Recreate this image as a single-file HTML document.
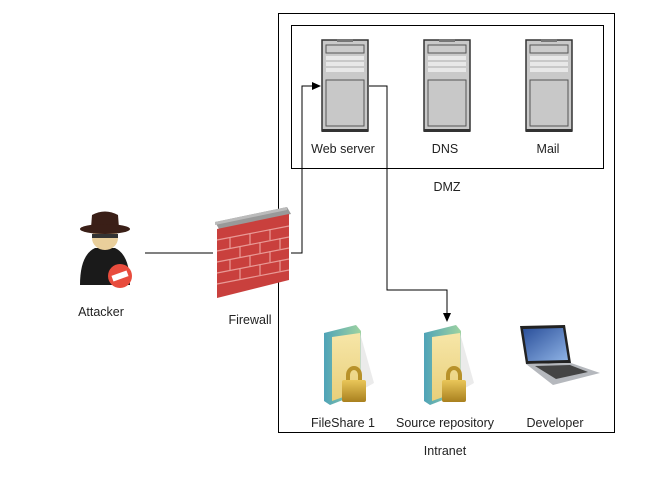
<!DOCTYPE html>
<html><head><style>
body{margin:0;background:#fff;width:652px;height:477px;overflow:hidden}
svg text{font-family:"Liberation Sans",sans-serif;font-size:12.5px;fill:#222}
</style></head><body>
<svg width="652" height="477" viewBox="0 0 652 477">
<defs>
<marker id="a" markerWidth="10" markerHeight="10" refX="8" refY="5" orient="auto" markerUnits="userSpaceOnUse"><path d="M0,1 L9,5 L0,9 Z" fill="#000"/></marker>
<linearGradient id="fb" x1="0" x2="1"><stop offset="0" stop-color="#4fa3b8"/><stop offset="1" stop-color="#9ed3a0"/></linearGradient>
<linearGradient id="fy" x1="0" x2="0" y2="1"><stop offset="0" stop-color="#f7e6a8"/><stop offset="1" stop-color="#e8cf7a"/></linearGradient>
<linearGradient id="lk" x1="0" x2="0" y2="1"><stop offset="0" stop-color="#e9c659"/><stop offset="1" stop-color="#a9801e"/></linearGradient>
<linearGradient id="sc" x1="0" x2="1" y2="1"><stop offset="0" stop-color="#2a4f9a"/><stop offset="1" stop-color="#8fb3e5"/></linearGradient>
<g id="srv">
<rect x="0" y="0" width="46" height="91" fill="#c9c9c9" stroke="#333" stroke-width="1.5"/>
<rect x="0" y="89" width="46" height="3" fill="#333"/>
<rect x="15" y="-1" width="16" height="3" fill="#777"/>
<rect x="4" y="5" width="38" height="8" fill="#ccc" stroke="#555"/>
<rect x="4" y="16" width="38" height="4" fill="#e8e8e8"/>
<rect x="4" y="22" width="38" height="4" fill="#e8e8e8"/>
<rect x="4" y="28" width="38" height="4" fill="#e8e8e8"/>
<rect x="4" y="40" width="38" height="46" fill="#c8c8c8" stroke="#555"/>
</g>
<g id="fold">
<path d="M8,10 L40,2 L45,8 L45,70 L14,82 L8,78 Z" fill="url(#fb)"/>
<path d="M16,14 L44,10 L44,68 L16,78 Z" fill="url(#fy)"/>
<path d="M44,10 L58,60 L44,68 Z" fill="#ddd" opacity=".6"/>
<path d="M30,52 a8,9 0 0 1 16,0 v6 h-4 v-6 a4,5 0 0 0 -8,0 v6 h-4z" fill="#b8922a"/>
<rect x="26" y="57" width="24" height="22" rx="2" fill="url(#lk)"/>
</g>
</defs>
<rect x="278.5" y="13.5" width="336" height="419" fill="none" stroke="#000"/>
<rect x="291.5" y="25.5" width="312" height="143" fill="none" stroke="#000"/>
<use href="#srv" x="322" y="40"/>
<use href="#srv" x="424" y="40"/>
<use href="#srv" x="526" y="40"/>
<text x="343" y="153" text-anchor="middle">Web server</text>
<text x="445" y="153" text-anchor="middle">DNS</text>
<text x="548" y="153" text-anchor="middle">Mail</text>
<text x="447" y="191" text-anchor="middle">DMZ</text>
<path d="M145,253 H213" stroke="#000" fill="none"/>
<path d="M291,253 H302 V86 H320" stroke="#000" fill="none" marker-end="url(#a)"/>
<path d="M369,86 H387 V290 H447 V321" stroke="#000" fill="none" marker-end="url(#a)"/>
<!-- firewall -->
<g>
<path d="M215,222 L287,207 L291,214 L219,229 Z" fill="#999"/>
<path d="M215,222 L287,207 L287,210 L215,225Z" fill="#bbb"/>
<path d="M217,229 L289,214 L289,280 L217,298 Z" fill="#c9403d"/>
<g stroke="#e99a96" stroke-width="1.2">
<path d="M217,240 L289,226 M217,251 L289,237 M217,262 L289,248 M217,273 L289,259 M217,284 L289,270"/>
<path d="M230,237 v11 M250,233 v11 M270,229 v11 M240,246 v11 M260,242 v11 M280,238 v11 M230,259 v11 M250,255 v11 M270,251 v11 M240,268 v11 M260,264 v11 M280,260 v11"/>
</g>
</g>
<text x="250" y="324" text-anchor="middle">Firewall</text>
<!-- attacker -->
<g>
<path d="M80,285 Q80,255 95,248 L115,248 Q130,255 130,285 Z" fill="#1a1a1a"/>
<ellipse cx="105" cy="238" rx="13" ry="12" fill="#e9cf9b"/>
<rect x="92" y="234" width="26" height="4" fill="#333"/>
<path d="M92,215 Q105,208 118,215 L119,228 L91,228Z" fill="#3a1f17"/>
<ellipse cx="105" cy="229" rx="25" ry="5" fill="#3a1f17"/>
<circle cx="120" cy="276" r="12" fill="#e84c3d"/>
<rect x="112" y="273" width="16" height="6" fill="#fff" transform="rotate(-20 120 276)"/>
</g>
<text x="101" y="316" text-anchor="middle">Attacker</text>
<use href="#fold" x="316" y="323"/>
<use href="#fold" x="416" y="323"/>
<!-- laptop -->
<g>
<path d="M520,326 L565,325 L571,363 L526,364Z" fill="#222"/>
<path d="M523,329 L563,328 L568,360 L528,361Z" fill="url(#sc)"/>
<path d="M526,364 L571,363 L600,373 L553,385 Z" fill="#b5b8bd"/>
<path d="M535,366 L570,365 L588,372 L556,379Z" fill="#444"/>
</g>
<text x="343" y="427" text-anchor="middle">FileShare 1</text>
<text x="445" y="427" text-anchor="middle">Source repository</text>
<text x="555" y="427" text-anchor="middle">Developer</text>
<text x="445" y="455" text-anchor="middle">Intranet</text>
</svg>
</body></html>
